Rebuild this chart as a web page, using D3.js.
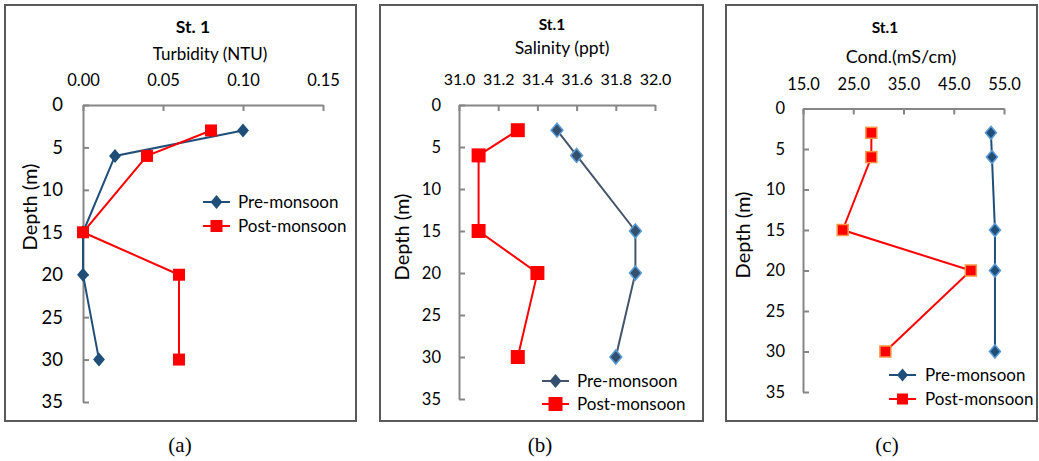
<!DOCTYPE html>
<html>
<head>
<meta charset="utf-8">
<script src="https://cdn.jsdelivr.net/npm/d3@7"></script>
<style>
body { margin: 0; background: #fff; }
svg { display: block; }
text { font-family: Lato, "Open Sans", sans-serif; fill: #000; }
</style>
</head>
<body>
<svg id="chart" width="1039" height="461"></svg>
<script>
// ---- Data ----
const depths = [3, 6, 15, 20, 30];
const depthTicks = [0, 5, 10, 15, 20, 25, 30, 35];

const turbidityTicks = [0, 0.05, 0.10, 0.15];
const turbidityPre = [0.10, 0.02, 0.00, 0.00, 0.01];
const turbidityPost = [0.08, 0.04, 0.00, 0.06, 0.06];

const salinityTicks = [31.0, 31.2, 31.4, 31.6, 31.8, 32.0];
const salinityPre = [31.5, 31.6, 31.9, 31.9, 31.8];
const salinityPost = [31.3, 31.1, 31.1, 31.4, 31.3];

const condTicks = [15, 25, 35, 45, 55];
const condPre = [52.4, 52.6, 53.2, 53.2, 53.2];
const condPost = [28.6, 28.6, 22.9, 48.4, 31.4];

const seriesNames = ["Pre-monsoon", "Post-monsoon"];
const captions = ["(a)", "(b)", "(c)"];

// ---- Drawing ----
const svg = d3.select("#chart");
const axisColor = "#868686";

const panels = [
  {
    box: [5, 5, 351, 416],
    title: "St. 1", titleX: 193, titleY: 33, titleSize: 17.5,
    label: "Turbidity (NTU)", labelX: 210, labelY: 60, labelSize: 17,
    xDomain: [0, 0.15], xRange: [83, 323], xTicks: turbidityTicks, fmt: d3.format(".2f"),
    yRange: [105, 402], xTickPad: 19, xTickSize: 16.5, yTickPad: 20, yTickSize: 18.5,
    depthX: 30, depthY: 207, depthSize: 20,
    pre: turbidityPre, post: turbidityPost,
    preLine: "#1f4e79", preFill: "#1f4e79", preStroke: "none",
    postStroke: "none", dia: 7, sq: 6,
    legX: 203, legY: [202, 226], legText: 238, legSize: 17,
    caption: captions[0], capX: 180
  },
  {
    box: [380, 5, 323, 416],
    title: "St.1", titleX: 552, titleY: 30, titleSize: 15.5,
    label: "Salinity (ppt)", labelX: 562, labelY: 54, labelSize: 17.5,
    xDomain: [31.0, 32.0], xRange: [459, 655], xTicks: salinityTicks, fmt: d3.format(".1f"),
    yRange: [105, 399], xTickPad: 20, xTickSize: 16, yTickPad: 18, yTickSize: 16.5,
    depthX: 402, depthY: 237, depthSize: 20,
    pre: salinityPre, post: salinityPost,
    preLine: "#44546a", preFill: "#33506f", preStroke: "#5b9bd5",
    postStroke: "none", dia: 7, sq: 7,
    legX: 542, legY: [381, 404], legText: 577, legSize: 17,
    caption: captions[1], capX: 540
  },
  {
    box: [726, 5, 311, 416],
    title: "St.1", titleX: 885, titleY: 33, titleSize: 15.5,
    label: "Cond.(mS/cm)", labelX: 901, labelY: 63, labelSize: 18,
    xDomain: [15, 55], xRange: [803, 1004], xTicks: condTicks, fmt: d3.format(".1f"),
    yRange: [108.5, 392], xTickPad: 18.5, xTickSize: 16.5, yTickPad: 18, yTickSize: 16.5,
    depthX: 743, depthY: 235, depthSize: 20,
    pre: condPre, post: condPost,
    preLine: "#1f4e79", preFill: "#1f4e79", preStroke: "#5b9bd5",
    postStroke: "#f79646", dia: 6.5, sq: 5.5,
    legX: 889, legY: [375, 399], legText: 925, legSize: 17,
    caption: captions[2], capX: 887
  }
];

function diamond(g, x, y, r, fill, stroke) {
  g.append("path")
    .attr("d", `M${x},${y - r}L${x + r * 0.85},${y}L${x},${y + r}L${x - r * 0.85},${y}Z`)
    .attr("fill", fill)
    .attr("stroke", stroke)
    .attr("stroke-width", stroke === "none" ? 0 : 1.5);
}
function square(g, x, y, r, stroke) {
  g.append("rect")
    .attr("x", x - r).attr("y", y - r)
    .attr("width", 2 * r).attr("height", 2 * r)
    .attr("fill", "#ff0000")
    .attr("stroke", stroke)
    .attr("stroke-width", stroke === "none" ? 0 : 1.5);
}

panels.forEach(p => {
  const g = svg.append("g");
  // panel border
  g.append("rect")
    .attr("x", p.box[0]).attr("y", p.box[1])
    .attr("width", p.box[2]).attr("height", p.box[3])
    .attr("fill", "none").attr("stroke", "#595959").attr("stroke-width", 2);

  const x = d3.scaleLinear().domain(p.xDomain).range(p.xRange);
  const y = d3.scaleLinear().domain([0, 35]).range(p.yRange);

  // top x axis
  const xa = g.append("g").attr("transform", `translate(0,${p.yRange[0]})`)
    .call(d3.axisTop(x).tickValues(p.xTicks).tickFormat(p.fmt)
      .tickSizeInner(-6).tickSizeOuter(0).tickPadding(p.xTickPad));
  xa.select(".domain").attr("stroke", axisColor).attr("stroke-width", 2);
  xa.selectAll(".tick line").attr("stroke", axisColor).attr("stroke-width", 2);
  xa.selectAll(".tick text").style("font-size", p.xTickSize + "px").attr("fill", "#000");

  // left y axis
  const ya = g.append("g").attr("transform", `translate(${p.xRange[0]},0)`)
    .call(d3.axisLeft(y).tickValues(depthTicks)
      .tickSizeInner(-6).tickSizeOuter(0).tickPadding(p.yTickPad));
  ya.select(".domain").attr("stroke", axisColor).attr("stroke-width", 2);
  ya.selectAll(".tick line").attr("stroke", axisColor).attr("stroke-width", 2);
  ya.selectAll(".tick text").style("font-size", p.yTickSize + "px").attr("fill", "#000");

  // titles
  g.append("text").attr("x", p.titleX).attr("y", p.titleY)
    .attr("text-anchor", "middle").style("font-weight", "bold")
    .style("font-size", p.titleSize + "px").text(p.title);
  g.append("text").attr("x", p.labelX).attr("y", p.labelY)
    .attr("text-anchor", "middle").style("font-size", p.labelSize + "px").text(p.label);
  g.append("text")
    .attr("transform", `translate(${p.depthX},${p.depthY}) rotate(-90)`)
    .attr("text-anchor", "middle").attr("dy", "0.35em")
    .style("font-size", p.depthSize + "px").text("Depth (m)");

  // lines
  const line = d3.line().x(d => x(d[0])).y(d => y(d[1]));
  const preData = p.pre.map((v, i) => [v, depths[i]]);
  const postData = p.post.map((v, i) => [v, depths[i]]);
  g.append("path").datum(preData).attr("d", line)
    .attr("fill", "none").attr("stroke", p.preLine).attr("stroke-width", 2);
  g.append("path").datum(postData).attr("d", line)
    .attr("fill", "none").attr("stroke", "#ff0000").attr("stroke-width", 2);
  preData.forEach(d => diamond(g, x(d[0]), y(d[1]), p.dia, p.preFill, p.preStroke));
  postData.forEach(d => square(g, x(d[0]), y(d[1]), p.sq, p.postStroke));

  // legend
  seriesNames.forEach((name, i) => {
    const ly = p.legY[i];
    g.append("line").attr("x1", p.legX).attr("x2", p.legX + 27)
      .attr("y1", ly).attr("y2", ly)
      .attr("stroke", i === 0 ? p.preLine : "#ff0000").attr("stroke-width", 2);
    if (i === 0) diamond(g, p.legX + 13.5, ly, p.dia, p.preFill, "none");
    else square(g, p.legX + 13.5, ly, p.sq, "none");
    g.append("text").attr("x", p.legText).attr("y", ly).attr("dy", "0.35em")
      .style("font-size", p.legSize + "px").text(name);
  });

  // caption
  svg.append("text").attr("x", p.capX).attr("y", 452)
    .attr("text-anchor", "middle")
    .style("font-family", "'Liberation Serif', 'Times New Roman', serif")
    .style("font-size", "21px").text(p.caption);
});
</script>
</body>
</html>
